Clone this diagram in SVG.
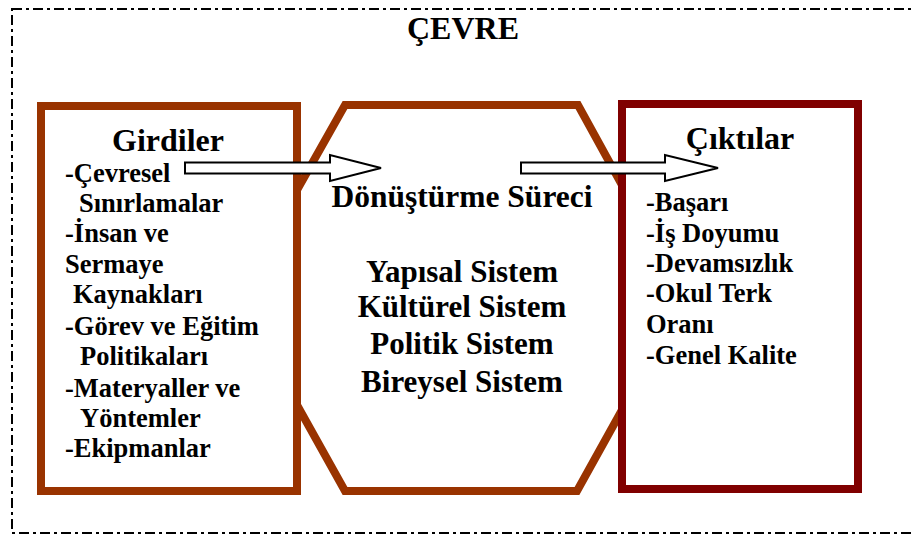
<svg xmlns="http://www.w3.org/2000/svg" width="911" height="536" viewBox="0 0 911 536">
<style>
text{font-family:"Liberation Serif","Times New Roman",serif;font-weight:bold;fill:#000}
.t32{font-size:32px}
.sys{font-size:31px;text-anchor:middle}
.item{font-size:26.5px}
.brown{fill:#fff;stroke:#993300;stroke-width:8}
.maroon{fill:#fff;stroke:#800000;stroke-width:8}
.arrow{fill:#fff;stroke:#000;stroke-width:2;stroke-linejoin:miter}
</style>
<rect width="911" height="536" fill="#fff"/>
<g id="environment">
<rect x="12" y="9" width="912" height="524" fill="none" stroke="#000" stroke-width="2" stroke-dasharray="10 4 3 4"/>
<text class="t32" x="463" y="39" text-anchor="middle">ÇEVRE</text>
</g>
<g id="process">
<polygon class="brown" points="345,105 578,105 622,185 622,410 577,491 345,491 297,405 297,190"/>
<text x="462" y="207" style="font-size:31.5px" text-anchor="middle">Dönüştürme Süreci</text>
<text class="sys" x="462" y="281.5">Yapısal Sistem</text>
<text class="sys" x="462" y="317">Kültürel Sistem</text>
<text class="sys" x="462" y="354">Politik Sistem</text>
<text class="sys" x="462" y="391.5">Bireysel Sistem</text>
</g>
<g id="inputs">
<rect class="brown" x="41" y="106" width="256" height="385"/>
<text class="t32" x="168" y="150.5" text-anchor="middle">Girdiler</text>
<text class="item" x="65" y="181.5">-Çevresel</text>
<text class="item" x="79" y="211.5">Sınırlamalar</text>
<text class="item" x="65" y="241.5">-İnsan ve</text>
<text class="item" x="65" y="273">Sermaye</text>
<text class="item" x="73" y="303">Kaynakları</text>
<text class="item" x="65" y="335">-Görev ve Eğitim</text>
<text class="item" x="80" y="365">Politikaları</text>
<text class="item" x="65" y="396.5">-Materyaller ve</text>
<text class="item" x="80" y="427">Yöntemler</text>
<text class="item" x="65" y="456.5">-Ekipmanlar</text>
</g>
<g id="outputs">
<rect class="maroon" x="622" y="104" width="236" height="385"/>
<text class="t32" x="740" y="148.5" text-anchor="middle">Çıktılar</text>
<text class="item" x="646" y="211">-Başarı</text>
<text class="item" x="646" y="241.5">-İş Doyumu</text>
<text class="item" x="646" y="272">-Devamsızlık</text>
<text class="item" x="646" y="302">-Okul Terk</text>
<text class="item" x="646" y="332.5">Oranı</text>
<text class="item" x="646" y="364">-Genel Kalite</text>
</g>
<g id="connectors">
<polygon class="arrow" points="185,162.5 330,162.5 330,155 381,168 330,181 330,173.5 185,173.5"/>
<polygon class="arrow" points="521,162.5 665,162.5 665,155 718,168 665,181 665,173.5 521,173.5"/>
</g>
</svg>
